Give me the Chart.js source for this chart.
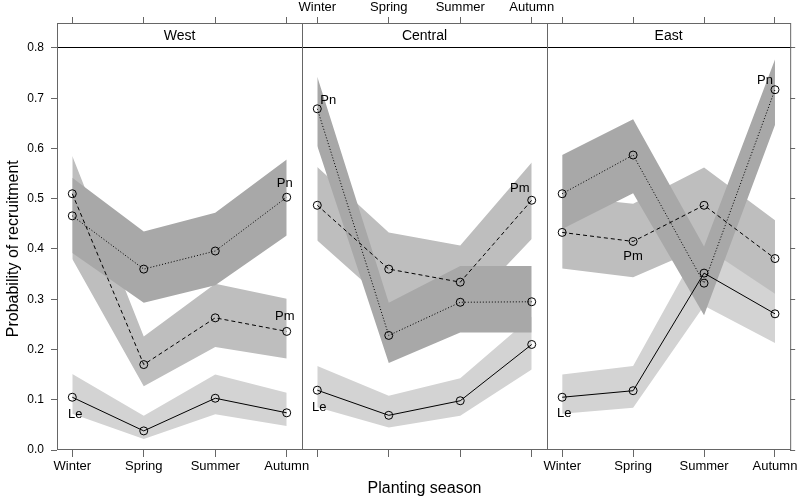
<!DOCTYPE html>
<html>
<head>
<meta charset="utf-8">
<script src="https://cdn.jsdelivr.net/npm/chart.js@4.4.1/dist/chart.umd.min.js"></script>
<style>
  body { margin: 0; background: #fff; }
  #wrap { position: relative; width: 800px; height: 500px; }
  #wrap canvas { position: absolute; left: 0; top: 0; }
</style>
</head>
<body>
<div id="wrap">
  <canvas id="westChart" width="800" height="500"></canvas>
  <canvas id="centralChart" width="800" height="500"></canvas>
  <canvas id="eastChart" width="800" height="500"></canvas>
</div>
<script>
Chart.defaults.font.family = '"Liberation Sans", Arial, Helvetica, sans-serif';
Chart.defaults.color = '#000';

const seasons = ['Winter', 'Spring', 'Summer', 'Autumn'];
const regions = ['West', 'Central', 'East'];
const yTickValues = [0, 0.1, 0.2, 0.3, 0.4, 0.5, 0.6, 0.7, 0.8];

// one row per region (West, Central, East), one column per season
const leMean  = [[0.105, 0.038, 0.103, 0.074], [0.119, 0.069, 0.098, 0.210], [0.105, 0.118, 0.352, 0.271]];
const leLower = [[0.072, 0.022, 0.071, 0.048], [0.085, 0.045, 0.068, 0.160], [0.072, 0.084, 0.287, 0.213]];
const leUpper = [[0.151, 0.068, 0.150, 0.114], [0.167, 0.108, 0.143, 0.265], [0.150, 0.167, 0.422, 0.330]];
const pmMean  = [[0.510, 0.170, 0.263, 0.236], [0.487, 0.360, 0.334, 0.497], [0.433, 0.415, 0.487, 0.381]];
const pmLower = [[0.380, 0.127, 0.205, 0.182], [0.417, 0.290, 0.270, 0.420], [0.361, 0.344, 0.405, 0.311]];
const pmUpper = [[0.585, 0.226, 0.331, 0.301], [0.563, 0.433, 0.407, 0.572], [0.505, 0.490, 0.562, 0.457]];
const pnMean  = [[0.466, 0.360, 0.396, 0.503], [0.679, 0.228, 0.294, 0.295], [0.510, 0.587, 0.332, 0.717]];
const pnLower = [[0.392, 0.293, 0.328, 0.427], [0.605, 0.173, 0.234, 0.234], [0.440, 0.511, 0.268, 0.647]];
const pnUpper = [[0.542, 0.435, 0.472, 0.578], [0.743, 0.293, 0.366, 0.366], [0.587, 0.658, 0.405, 0.777]];

// where the species names sit next to a point (pixel offsets)
const tags = [
    [{ text: 'Le', series: leMean, season: 0, dx: 3, dy: 17 },
     { text: 'Pm', series: pmMean, season: 3, dx: -2, dy: -15 },
     { text: 'Pn', series: pnMean, season: 3, dx: -2, dy: -14 }],
    [{ text: 'Le', series: leMean, season: 0, dx: 2, dy: 17 },
     { text: 'Pn', series: pnMean, season: 0, dx: 11, dy: -8 },
     { text: 'Pm', series: pmMean, season: 3, dx: -12, dy: -12 }],
    [{ text: 'Le', series: leMean, season: 0, dx: 2, dy: 16 },
     { text: 'Pm', series: pmMean, season: 1, dx: 0, dy: 15 },
     { text: 'Pn', series: pnMean, season: 3, dx: -10, dy: -9 }]
];

const canvasIds = ['westChart', 'centralChart', 'eastChart'];
const panelLeft = [57, 302, 547];
const panelRight = [302, 547, 792];
const fontStack = '"Liberation Sans", Arial, Helvetica, sans-serif';

function toPoints(values) {
    return values.map((v, i) => ({ x: i + 1, y: v }));
}

function meanLine(values, dash) {
    return {
        data: toPoints(values),
        borderColor: '#000',
        borderWidth: 1,
        borderDash: dash,
        pointRadius: 4,
        pointBorderColor: '#000',
        pointBackgroundColor: 'rgba(0,0,0,0)',
        pointBorderWidth: 1,
        fill: false,
        order: 0
    };
}

function bandEdge(values, target, color, order) {
    return {
        data: toPoints(values),
        borderWidth: 0,
        borderColor: 'rgba(0,0,0,0)',
        pointRadius: 0,
        fill: target === null ? false : { target: target },
        backgroundColor: color,
        order: order
    };
}

const panelDecor = {
    id: 'panelDecor',
    afterDatasetsDraw(chart, args, opts) {
        const { ctx, chartArea: a, scales } = chart;
        const y = scales.y;
        const stripBottom = Math.round(y.getPixelForValue(0.8)) - 0.5;
        ctx.save();
        ctx.fillStyle = '#fff';
        ctx.fillRect(a.left, a.top, a.right - a.left, stripBottom - a.top);

        ctx.fillStyle = '#000';
        ctx.textAlign = 'center';
        ctx.textBaseline = 'middle';
        ctx.font = '13px ' + fontStack;
        tags[opts.panel].forEach(t => {
            const px = scales.x.getPixelForValue(t.season + 1);
            const py = y.getPixelForValue(t.series[opts.panel][t.season]);
            ctx.fillText(t.text, px + t.dx, py + t.dy);
        });

        ctx.font = '14px ' + fontStack;
        ctx.fillText(regions[opts.panel], (a.left + a.right) / 2, (a.top + stripBottom) / 2 + 1);

        ctx.lineWidth = 1;
        ctx.strokeStyle = '#000';
        ctx.beginPath();
        ctx.moveTo(a.left, stripBottom);
        ctx.lineTo(a.right + 1, stripBottom);
        ctx.stroke();

        ctx.strokeStyle = '#666';
        ctx.strokeRect(a.left + 0.5, a.top + 0.5, a.right - a.left, a.bottom - a.top - 1);

        if (opts.titles) {
            ctx.font = '16px ' + fontStack;
            ctx.fillText('Planting season', (panelLeft[0] + panelRight[2]) / 2, 489);
            ctx.translate(14, (stripBottom + a.bottom) / 2);
            ctx.rotate(-Math.PI / 2);
            ctx.fillText('Probability of recruitment', 0, 0);
        }
        ctx.restore();
    }
};

function seasonAxis(position, showLabels, tickLength, height) {
    return {
        type: 'linear',
        position: position,
        min: 0.786,
        max: 4.214,
        afterBuildTicks: s => { s.ticks = seasons.map((_, i) => ({ value: i + 1 })); },
        ticks: {
            display: showLabels,
            font: { size: 13 },
            padding: 2,
            autoSkip: false,
            maxRotation: 0,
            callback: v => seasons[v - 1]
        },
        grid: { drawOnChartArea: false, tickLength: tickLength, color: '#666' },
        border: { display: false },
        afterFit: s => { s.height = height; }
    };
}

function makePanel(p) {
    const isWest = p === 0;
    const isCentral = p === 1;
    const isEast = p === 2;
    new Chart(document.getElementById(canvasIds[p]), {
        type: 'line',
        data: {
            datasets: [
                meanLine(leMean[p], []),
                meanLine(pmMean[p], [4, 3]),
                meanLine(pnMean[p], [1, 2]),
                bandEdge(leLower[p], null, '#d3d3d3', 3),
                bandEdge(leUpper[p], 3, '#d3d3d3', 3),
                bandEdge(pmLower[p], null, '#bebebe', 2),
                bandEdge(pmUpper[p], 5, '#bebebe', 2),
                bandEdge(pnLower[p], null, '#a8a8a8', 1),
                bandEdge(pnUpper[p], 7, '#a8a8a8', 1)
            ]
        },
        options: {
            responsive: false,
            animation: false,
            events: [],
            layout: {
                padding: {
                    left: isWest ? 0 : panelLeft[p],
                    right: isEast ? 0 : 800 - panelRight[p],
                    top: 0,
                    bottom: 0
                }
            },
            plugins: {
                legend: { display: false },
                tooltip: { enabled: false },
                panelDecor: { panel: p, titles: isWest }
            },
            scales: {
                x: seasonAxis('bottom', !isCentral, 7, 50),
                xTop: seasonAxis('top', isCentral, 6, 23),
                y: {
                    type: 'linear',
                    min: 0,
                    max: 0.84975,
                    display: !isCentral,
                    position: isEast ? 'right' : 'left',
                    afterBuildTicks: s => { s.ticks = yTickValues.map(v => ({ value: v })); },
                    ticks: {
                        display: isWest,
                        font: { size: 12 },
                        padding: 7,
                        callback: v => v.toFixed(1)
                    },
                    grid: { drawOnChartArea: false, tickLength: isWest ? 6 : 5, color: '#666' },
                    border: { display: false },
                    afterFit: s => { s.width = isWest ? 57 : (isEast ? 8 : 0); }
                }
            }
        },
        plugins: [panelDecor]
    });
}

document.addEventListener('DOMContentLoaded', function() {
    regions.forEach((_, p) => makePanel(p));
});
</script>
</body>
</html>
